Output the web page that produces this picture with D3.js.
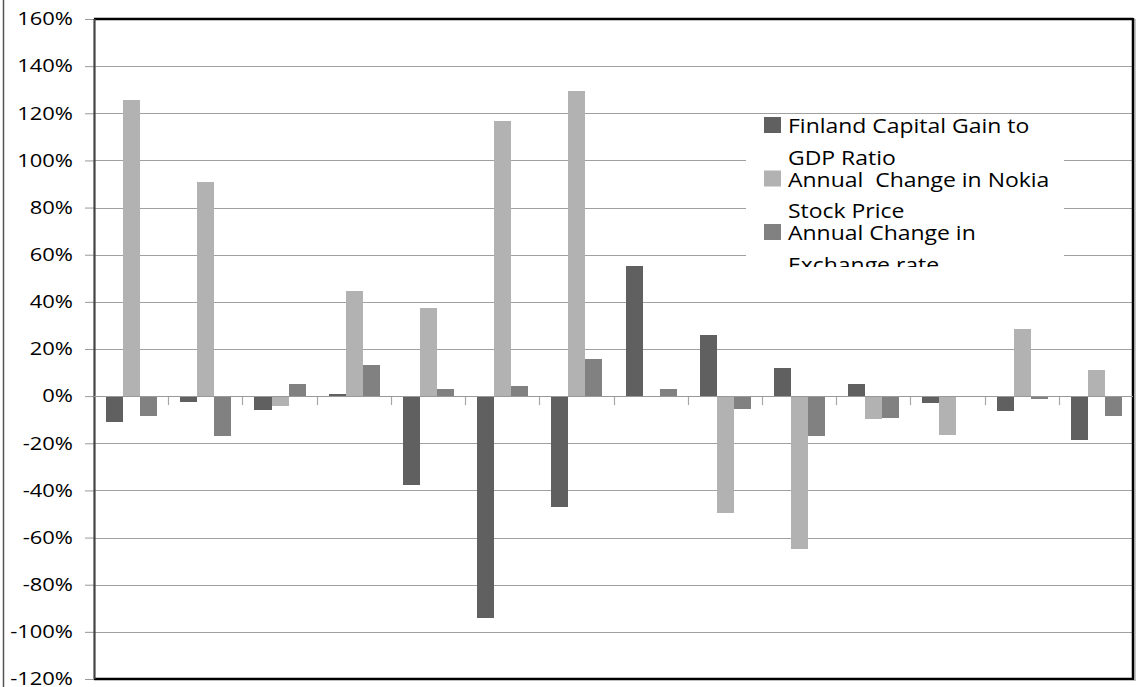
<!DOCTYPE html>
<html>
<head>
<meta charset="utf-8">
<script src="https://cdn.jsdelivr.net/npm/d3@7"></script>
<style>
  body { margin: 0; background: #fff; }
  svg { display: block; }
  text { font-family: "Open Sans", sans-serif; fill: #000; }
</style>
</head>
<body>
<svg id="chart" width="1144" height="687"></svg>
<script>
// data (values in %)
let groups = ["1", "2", "3", "4", "5", "6", "7", "8", "9", "10", "11", "12", "13", "14"];
let seriesNames = ["Finland Capital Gain to GDP Ratio", "Annual  Change in Nokia Stock Price", "Annual Change in Exchange rate"];
let legendLines = [["Finland Capital Gain to", "GDP Ratio"], ["Annual  Change in Nokia", "Stock Price"], ["Annual Change in", "Exchange rate"]];
let finland = [-10.8, -2.3, -5.8, 1.0, -37.9, -94.2, -47.2, 55.3, 26.0, 12.0, 5.2, -3.1, -6.1, -18.8];
let nokia = [125.5, 90.8, -4.0, 44.6, 37.4, 116.7, 129.4, 0, -49.7, -65.0, -9.9, -16.3, 28.5, 11.2];
let exchange = [-8.6, -16.7, 5.2, 13.3, 3.1, 4.4, 15.8, 3.1, -5.4, -16.7, -9.1, 0, -1.0, -8.6];
let yTicks = [-120, -100, -80, -60, -40, -20, 0, 20, 40, 60, 80, 100, 120, 140, 160];
let colors = ["#606060", "#b2b2b2", "#818181"];

let margins = { top: 19, right: 11, bottom: 8, left: 94 };
let width = 1144 - margins.left - margins.right;
let height = 687 - margins.top - margins.bottom;

let allSeries = [finland, nokia, exchange];

let x0 = d3.scaleBand().domain(groups).range([0, width]).padding(0);
let x1 = d3.scaleBand().domain(d3.range(3)).range([12, x0.bandwidth() - 11]).padding(0);
let y = d3.scaleLinear().domain([-120, 160]).range([height, 0]);

let svg = d3.select("#chart");

// outer chart frame (only left edge visible)
svg.append("line")
  .attr("x1", 3.5).attr("x2", 3.5)
  .attr("y1", 0).attr("y2", 687)
  .style("stroke", "#555")
  .style("stroke-width", 1.5);

let graph = svg.append("g")
  .attr("transform", "translate(" + margins.left + "," + margins.top + ")");

// horizontal grid
graph.append("g")
  .selectAll("line")
  .data(yTicks.filter(function(d) { return d !== 160 && d !== -120; }))
  .enter().append("line")
  .attr("x1", 0).attr("x2", width)
  .attr("y1", function(d) { return Math.round(y(d)) + 0.5; })
  .attr("y2", function(d) { return Math.round(y(d)) + 0.5; })
  .style("stroke", "#a0a0a0")
  .style("stroke-width", 1.2);

// bars
let groupG = graph.selectAll(".grp")
  .data(groups)
  .enter().append("g")
  .attr("class", "grp")
  .attr("transform", function(d) { return "translate(" + x0(d) + ",0)"; });

groupG.selectAll("rect")
  .data(function(d, i) { return allSeries.map(function(s, k) { return { k: k, v: s[i] }; }); })
  .enter().append("rect")
  .attr("x", function(d) { return x1(d.k); })
  .attr("width", x1.bandwidth())
  .attr("y", function(d) { return y(Math.max(0, d.v)); })
  .attr("height", function(d) { return Math.abs(y(d.v) - y(0)); })
  .style("fill", function(d) { return colors[d.k]; })
  .style("shape-rendering", "crispEdges");

// category ticks below the zero line
graph.append("g")
  .selectAll("line")
  .data(groups.slice(1))
  .enter().append("line")
  .attr("x1", function(d) { return Math.round(x0(d)) + 0.5; })
  .attr("x2", function(d) { return Math.round(x0(d)) + 0.5; })
  .attr("y1", y(0))
  .attr("y2", y(0) + 9)
  .style("stroke", "#a8a8a8")
  .style("stroke-width", 1.2);

// y axis
let sx = 1.22;
let yAxis = d3.axisLeft(y)
  .tickValues(yTicks)
  .tickSize(9)
  .tickFormat(function(d) { return d + "%"; });

let axisG = graph.append("g")
  .attr("class", "y axis")
  .call(yAxis);
axisG.select(".domain").remove();
axisG.selectAll("line").style("stroke", "#999");
axisG.selectAll("text")
  .attr("x", -21 / sx)
  .attr("transform", "scale(" + sx + ",1)")
  .style("font-size", "18px")
  .style("font-family", "'Open Sans', sans-serif")
  .style("fill", "#000");

// plot frame
graph.append("line")
  .attr("x1", 0).attr("x2", width)
  .attr("y1", 0).attr("y2", 0)
  .style("stroke", "#000").style("stroke-width", 2.5);
graph.append("line")
  .attr("x1", 0).attr("x2", width + 1)
  .attr("y1", height).attr("y2", height)
  .style("stroke", "#000").style("stroke-width", 2.5);
graph.append("line")
  .attr("x1", width).attr("x2", width)
  .attr("y1", -1).attr("y2", height + 1)
  .style("stroke", "#000").style("stroke-width", 2.5);
graph.append("line")
  .attr("x1", width + 2).attr("x2", width + 2)
  .attr("y1", 0).attr("y2", height + 2)
  .style("stroke", "#888").style("stroke-width", 1);
graph.append("line")
  .attr("x1", 0.5).attr("x2", 0.5)
  .attr("y1", 0).attr("y2", height)
  .style("stroke", "#444").style("stroke-width", 2.2);

// zero line on top of bars
graph.append("line")
  .attr("x1", 0).attr("x2", width)
  .attr("y1", Math.round(y(0)) + 0.5).attr("y2", Math.round(y(0)) + 0.5)
  .style("stroke", "#999").style("stroke-width", 1.2);

// legend
let lx = 746, ly = 115, lw = 318, lh = 152;
let defs = svg.append("defs");
defs.append("clipPath").attr("id", "legend-clip")
  .append("rect").attr("x", lx).attr("y", ly).attr("width", lw).attr("height", lh);

let legend = svg.append("g").attr("clip-path", "url(#legend-clip)");
legend.append("rect")
  .attr("x", lx).attr("y", ly).attr("width", lw).attr("height", lh)
  .style("fill", "#fff");

let entry = legend.selectAll(".entry")
  .data(seriesNames)
  .enter().append("g")
  .attr("class", "entry")
  .attr("transform", function(d, i) { return "translate(0," + (133 + i * 53.5) + ")"; });

entry.append("rect")
  .attr("x", 764).attr("y", -16)
  .attr("width", 17).attr("height", 16)
  .style("fill", function(d, i) { return colors[i]; });

entry.each(function(d, i) {
  let g = d3.select(this);
  legendLines[i].forEach(function(t, j) {
    g.append("text")
      .attr("transform", "translate(788," + (j * 31.5) + ") scale(1.12,1)")
      .style("font-size", "20.5px")
      .style("white-space", "pre")
      .text(t);
  });
});
</script>
</body>
</html>
